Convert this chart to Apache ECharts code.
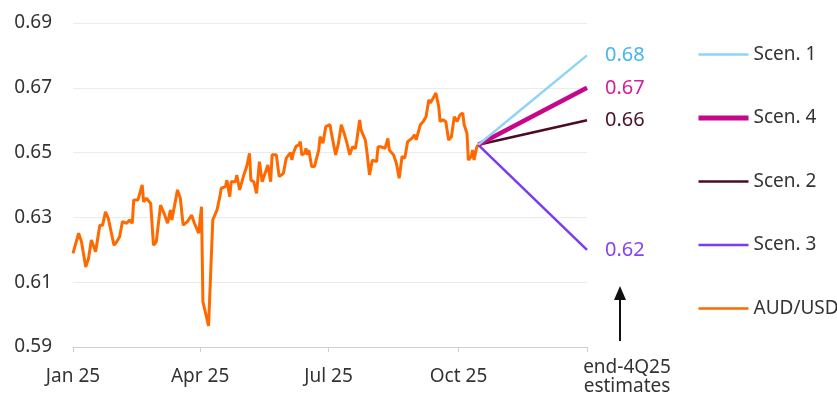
<!DOCTYPE html>
<html>
<head>
<meta charset="utf-8">
<script src="https://cdn.jsdelivr.net/npm/echarts@6/dist/echarts.min.js"></script>
<style>
html,body{margin:0;padding:0;background:#fff;}
#chart{width:837px;height:401px;}
</style>
</head>
<body>
<div id="chart"></div>
<script>
// ---- data ----
const dates = [
'2025-01-01','2025-01-05','2025-01-07','2025-01-10','2025-01-12','2025-01-14','2025-01-17','2025-01-20','2025-01-22','2025-01-24',
'2025-01-26','2025-01-30','2025-02-01','2025-02-03','2025-02-05','2025-02-08','2025-02-10','2025-02-12','2025-02-13','2025-02-16',
'2025-02-17','2025-02-19','2025-02-20','2025-02-22','2025-02-25','2025-02-27','2025-03-01','2025-03-04','2025-03-07','2025-03-09',
'2025-03-11','2025-03-12','2025-03-16','2025-03-18','2025-03-20','2025-03-23','2025-03-26','2025-03-28','2025-03-31','2025-04-02',
'2025-04-03','2025-04-07','2025-04-10','2025-04-13','2025-04-15','2025-04-16','2025-04-19','2025-04-20','2025-04-22','2025-04-23',
'2025-04-26','2025-04-27','2025-04-29','2025-04-30','2025-05-02','2025-05-04','2025-05-06','2025-05-07','2025-05-09','2025-05-11',
'2025-05-13','2025-05-15','2025-05-16','2025-05-19','2025-05-21','2025-05-22','2025-05-25','2025-05-26','2025-05-27','2025-05-30',
'2025-06-01','2025-06-04','2025-06-05','2025-06-06','2025-06-08','2025-06-10','2025-06-11','2025-06-12','2025-06-14','2025-06-15',
'2025-06-16','2025-06-17','2025-06-19','2025-06-21','2025-06-24','2025-06-25','2025-06-27','2025-06-29','2025-07-02','2025-07-03',
'2025-07-06','2025-07-08','2025-07-10','2025-07-12','2025-07-14','2025-07-15','2025-07-16','2025-07-18','2025-07-20','2025-07-21',
'2025-07-23','2025-07-24','2025-07-27','2025-07-28','2025-07-30','2025-07-31','2025-08-01','2025-08-04','2025-08-05','2025-08-07',
'2025-08-10','2025-08-12','2025-08-13','2025-08-16','2025-08-18','2025-08-20','2025-08-22','2025-08-24','2025-08-26','2025-08-29',
'2025-08-31','2025-09-01','2025-09-04','2025-09-06','2025-09-08','2025-09-10','2025-09-11','2025-09-13','2025-09-15','2025-09-17',
'2025-09-18','2025-09-20','2025-09-22','2025-09-24','2025-09-26','2025-09-28','2025-09-30','2025-10-02','2025-10-04','2025-10-05',
'2025-10-07','2025-10-08','2025-10-10','2025-10-11','2025-10-12','2025-10-14','2025-10-15'
];
const audusd = [
0.6189,0.6251,0.6225,0.6147,0.6173,0.6230,0.6194,0.6276,0.6276,0.6317,
0.6297,0.6214,0.6225,0.6240,0.6287,0.6282,0.6292,0.6282,0.6354,0.6354,
0.6359,0.6400,0.6348,0.6359,0.6343,0.6214,0.6225,0.6338,0.6307,0.6282,
0.6323,0.6292,0.6385,0.6359,0.6276,0.6287,0.6307,0.6282,0.6251,0.6333,
0.6040,0.5965,0.6292,0.6323,0.6364,0.6390,0.6395,0.6415,0.6364,0.6410,
0.6410,0.6431,0.6385,0.6385,0.6431,0.6457,0.6498,0.6415,0.6410,0.6374,
0.6472,0.6410,0.6410,0.6462,0.6410,0.6493,0.6493,0.6488,0.6426,0.6436,
0.6483,0.6500,0.6477,0.6498,0.6520,0.6524,0.6534,0.6493,0.6498,0.6513,
0.6493,0.6508,0.6457,0.6457,0.6508,0.6549,0.6529,0.6580,0.6586,0.6560,
0.6493,0.6529,0.6586,0.6560,0.6529,0.6529,0.6493,0.6518,0.6513,0.6539,
0.6601,0.6570,0.6539,0.6508,0.6431,0.6426,0.6477,0.6472,0.6518,0.6518,
0.6513,0.6544,0.6508,0.6493,0.6467,0.6421,0.6488,0.6483,0.6534,0.6544,
0.6555,0.6539,0.6586,0.6596,0.6611,0.6663,0.6653,0.6668,0.6684,0.6642,
0.6596,0.6601,0.6596,0.6539,0.6549,0.6611,0.6596,0.6616,0.6622,0.6586,
0.6560,0.6477,0.6488,0.6508,0.6477,0.6518,0.6524
];
const scenNames = ['Scen. 1','Scen. 4','Scen. 2','Scen. 3'];
const scenStart = ['2025-10-15', 0.6524];
const scenEndDate = '2025-12-31';
const scenEnd = [0.68, 0.67, 0.66, 0.62];
const xTickDates = ['2025-01-01','2025-04-01','2025-07-01','2025-10-01'];
const xTickLabels = ['Jan 25','Apr 25','Jul 25','Oct 25'];
const endText = 'end-4Q25\nestimates';
const legendOrder = ['Scen. 1','Scen. 4','Scen. 2','Scen. 3','AUD/USD'];

// ---- styles ----
const scenColors = ['#8fd4f7','#c6078c','#4a0b25','#7b3bf2'];
const scenLabelColors = ['#45b6ee','#d1209a','#4a1328','#8a42f0'];
const scenWidths = [2.5, 4.5, 2.5, 2.5];
const audWidth = 3;
const FONT = '"Noto Sans", sans-serif';

const ts = d => Date.UTC(+d.slice(0,4), +d.slice(5,7) - 1, +d.slice(8,10));
const labelMap = {};
xTickDates.forEach((d, i) => { labelMap[ts(d)] = xTickLabels[i]; });

const series = [{
  name: 'AUD/USD',
  type: 'line',
  symbol: 'none',
  data: dates.map((d, i) => [ts(d), audusd[i]]),
  lineStyle: { color: '#ff6a00', width: audWidth },
  itemStyle: { color: '#ff6a00' },
  z: 2
}];
scenNames.forEach((n, i) => {
  series.push({
    name: n,
    type: 'line',
    symbol: 'none',
    data: [[ts(scenStart[0]), scenStart[1]], [ts(scenEndDate), scenEnd[i]]],
    lineStyle: { color: scenColors[i], width: scenWidths[i] },
    itemStyle: { color: scenColors[i] },
    endLabel: {
      show: true,
      distance: 18,
      formatter: p => p.value[1].toFixed(2),
      color: scenLabelColors[i],
      fontSize: 20,
      fontFamily: FONT
    },
    z: 3 + (3 - i)
  });
});

const widthByName = { 'AUD/USD': 2.5 };
scenNames.forEach((n, i) => { widthByName[n] = scenWidths[i] === 4.5 ? 5 : scenWidths[i]; });

const chart = echarts.init(document.getElementById('chart'), null, { renderer: 'canvas' });
chart.setOption({
  animation: false,
  backgroundColor: '#fff',
  textStyle: { fontFamily: FONT },
  grid: { left: 73, right: 250, top: 23, bottom: 54, containLabel: false },
  legend: {
    orient: 'vertical',
    left: 696,
    top: 45,
    padding: 0,
    itemWidth: 50,
    itemHeight: 14,
    itemGap: 44.5,
    data: legendOrder.map(n => ({ name: n, lineStyle: { width: widthByName[n], cap: 'butt' } })),
    itemStyle: { opacity: 0 },
    textStyle: { fontSize: 19, color: '#333', fontFamily: FONT }
  },
  xAxis: {
    type: 'value',
    min: ts('2025-01-01'),
    max: ts(scenEndDate),
    axisLine: { show: true, lineStyle: { color: '#cfcfcf', width: 1 } },
    axisTick: { show: true, customValues: xTickDates.map(ts).concat([ts(scenEndDate)]), length: 5, lineStyle: { color: '#cfcfcf' } },
    axisLabel: {
      customValues: xTickDates.map(ts),
      formatter: v => labelMap[v] || '',
      fontSize: 19, color: '#333', margin: 20, fontFamily: FONT
    },
    splitLine: { show: false }
  },
  yAxis: {
    type: 'value',
    min: 0.59, max: 0.69, interval: 0.02,
    axisLine: { show: false },
    axisTick: { show: false },
    axisLabel: { formatter: v => v.toFixed(2), fontSize: 19, color: '#333', margin: 21, fontFamily: FONT },
    splitLine: { show: true, lineStyle: { color: '#ebebeb', width: 1 } }
  },
  series: series,
  graphic: [
    { type: 'line', shape: { x1: 620, y1: 298, x2: 620, y2: 341 }, style: { stroke: '#111', lineWidth: 2 } },
    { type: 'polygon', shape: { points: [[620, 286], [614, 300], [626, 300]] }, style: { fill: '#111' } },
    { type: 'text', x: 627, y: 377, style: { text: endText, fill: '#333', font: '19px "Noto Sans", sans-serif', align: 'center', verticalAlign: 'middle', lineHeight: 19 } }
  ]
});
</script>
</body>
</html>
